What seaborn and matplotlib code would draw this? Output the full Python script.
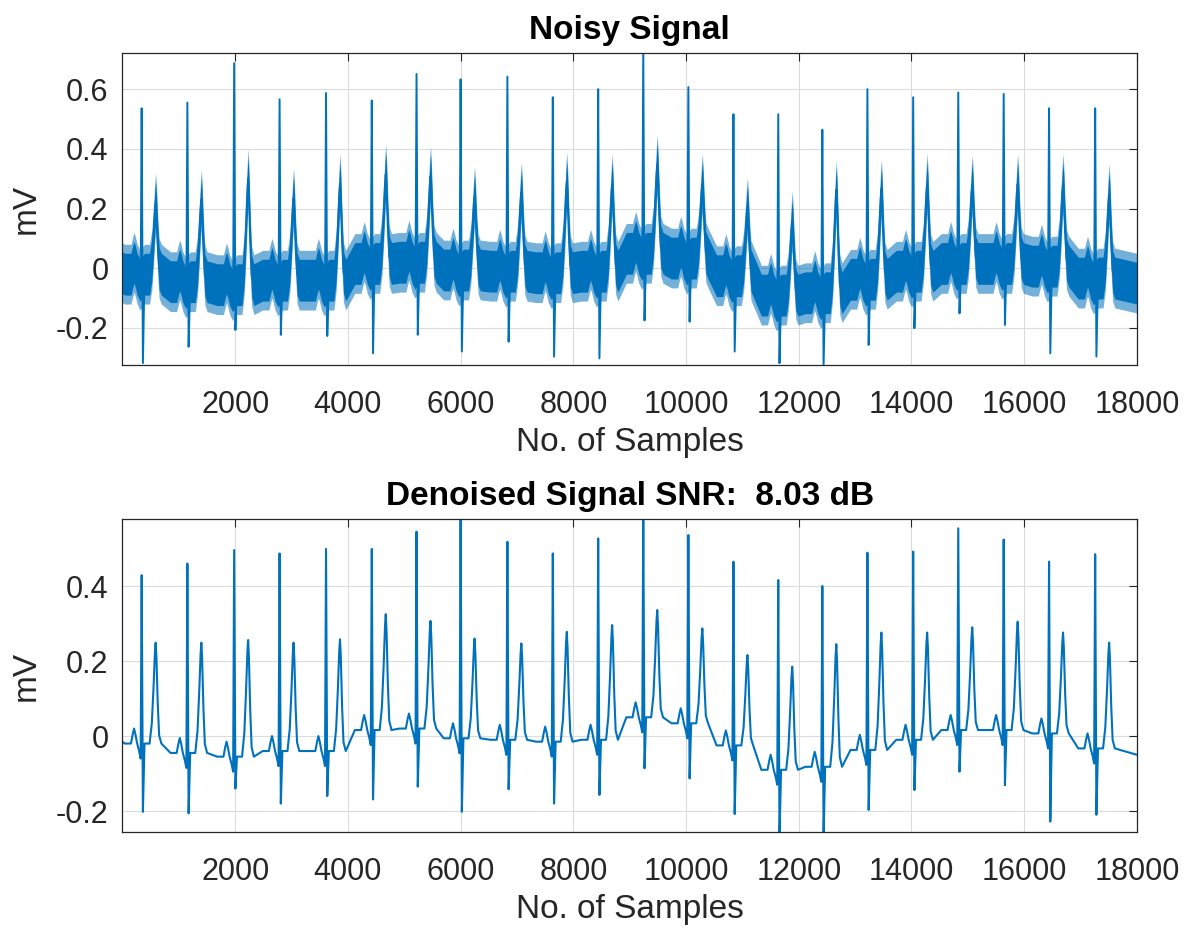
import matplotlib
matplotlib.use("Agg")
import matplotlib.pyplot as plt
import numpy as np
import pandas as pd
import seaborn as sns

# ---------------- data ----------------
beat_pos = [341, 1152, 1982, 2788, 3612, 4424, 5218, 6000, 6830, 7636, 8441,
            9241, 10041, 10841, 11636, 12418, 13218, 14030, 14830, 15636, 16441, 17259]

# denoised signal (mV)
clean_base = [-0.020, -0.045, -0.055, -0.040, -0.040, 0.016, 0.020, -0.006, -0.010, -0.015, -0.010,
              0.050, 0.034, -0.025, -0.090, -0.082, -0.037, -0.010, 0.016, 0.016, 0.007, -0.033]
clean_r = [0.429, 0.460, 0.496, 0.487, 0.499, 0.499, 0.545, 0.600, 0.518, 0.487, 0.527,
           0.600, 0.536, 0.465, 0.416, 0.400, 0.489, 0.492, 0.554, 0.524, 0.465, 0.485]
clean_s = [-0.202, -0.206, -0.140, -0.180, -0.160, -0.169, -0.135, -0.202, -0.142, -0.180, -0.157,
           -0.086, -0.113, -0.208, -0.270, -0.270, -0.197, -0.144, -0.095, -0.131, -0.228, -0.210]
clean_t = [0.249, 0.249, 0.256, 0.249, 0.258, 0.325, 0.307, 0.260, 0.247, 0.278, 0.296,
           0.336, 0.287, 0.216, 0.185, 0.245, 0.276, 0.276, 0.290, 0.305, 0.276, 0.249]

# noisy signal (mV)
noisy_r = [0.536, 0.555, 0.687, 0.566, 0.587, 0.562, 0.651, 0.633, 0.642, 0.573, 0.600,
           0.740, 0.607, 0.516, 0.516, 0.464, 0.600, 0.573, 0.589, 0.584, 0.536, 0.536]
noisy_s = [-0.318, -0.263, -0.207, -0.223, -0.227, -0.285, -0.223, -0.279, -0.246, -0.296, -0.302,
           -0.175, -0.179, -0.279, -0.318, -0.330, -0.257, -0.201, -0.151, -0.190, -0.285, -0.296]
noisy_t = [0.318, 0.330, 0.400, 0.335, 0.383, 0.416, 0.408, 0.340, 0.355, 0.388, 0.383,
           0.447, 0.383, 0.304, 0.257, 0.363, 0.365, 0.385, 0.379, 0.382, 0.383, 0.349]
noise_half_band = 0.10    # half width of the noise band (mV)
noise_core_band = 0.07    # half width of its dense core (mV)

signal_start = [0, -0.015]
signal_end = [18000, -0.050]

x_ticks = [2000, 4000, 6000, 8000, 10000, 12000, 14000, 16000, 18000]
y_ticks_top = [-0.2, 0, 0.2, 0.4, 0.6]
y_ticks_bot = [-0.2, 0, 0.2, 0.4]

titles = ["Noisy Signal", "Denoised Signal SNR:  8.03 dB"]
x_label = "No. of Samples"
y_label = "mV"

# ---------------- beat template (shape only) ----------------
P_AMP = 0.04


def beat_points(pos, b, r, s, t, qrs=True):
    h = t - b
    pts = [(-300, b), (-190, b), (-160, b + 0.6 * P_AMP), (-135, b + P_AMP),
           (-110, b + 0.6 * P_AMP), (-80, b)]
    if qrs:
        pts += [(-45, b - 0.02), (-18, b - 0.04), (0, r), (22, s), (50, b)]
    else:
        pts += [(-30, b - 0.02), (50, b)]
    pts += [(140, b), (180, b + 0.2 * h), (210, b + 0.55 * h), (235, b + 0.9 * h), (248, t),
            (262, b + 0.85 * h), (285, b + 0.4 * h), (310, b + 0.08 * h), (350, b)]
    return [(pos + o, v) for o, v in pts]


def build(base, r, s, t, qrs=True):
    pts = [tuple(signal_start)]
    for i, p in enumerate(beat_pos):
        pts += beat_points(p, base[i], r[i], s[i], t[i], qrs)
    pts.append(tuple(signal_end))
    return pd.DataFrame(pts, columns=["sample", "mV"])


clean_df = build(clean_base, clean_r, clean_s, clean_t)
noisy_line_t = [v - noise_half_band for v in noisy_t]
noisy_df = build(clean_base, noisy_r, noisy_s, noisy_line_t)
band_df = build(clean_base, noisy_r, noisy_s, noisy_line_t, qrs=False)

# ---------------- style ----------------
sns.set_theme(style="white")
plt.rcParams["font.family"] = ["Liberation Sans", "DejaVu Sans"]
plt.rcParams["axes.unicode_minus"] = False

BLUE = "#0072BD"
DARK = "#262626"

fig = plt.figure(figsize=(11.9, 9.31), dpi=100)
ax1 = fig.add_axes([0.1029, 0.608, 0.8525, 0.3347])
ax2 = fig.add_axes([0.1029, 0.1067, 0.8525, 0.3355])

# noisy
ax1.fill_between(band_df["sample"], band_df["mV"] - noise_half_band, band_df["mV"] + noise_half_band,
                 color=BLUE, alpha=0.55, lw=0)
ax1.fill_between(band_df["sample"], band_df["mV"] - noise_core_band, band_df["mV"] + noise_core_band,
                 color=BLUE, alpha=1.0, lw=0)
sns.lineplot(data=noisy_df, x="sample", y="mV", ax=ax1, sort=False, estimator=None,
             color=BLUE, linewidth=1.4)
# denoised
sns.lineplot(data=clean_df, x="sample", y="mV", ax=ax2, sort=False, estimator=None,
             color=BLUE, linewidth=1.5)


def fmt(v):
    return f"{v:g}"


for ax, yt, ylim, title in [(ax1, y_ticks_top, (-0.324, 0.72), titles[0]),
                            (ax2, y_ticks_bot, (-0.255, 0.578), titles[1])]:
    ax.set_xlim(0, 18000)
    ax.set_ylim(*ylim)
    ax.set_xticks(x_ticks)
    ax.set_xticklabels([str(v) for v in x_ticks])
    ax.set_yticks(yt)
    ax.set_yticklabels([fmt(v) for v in yt])
    ax.set_axisbelow(True)
    ax.grid(True, color="#dcdcdc", linewidth=0.8)
    ax.tick_params(direction="in", top=True, right=True, length=6, width=0.8,
                   labelsize=22, labelcolor=DARK, color=DARK)
    ax.tick_params(axis="x", pad=18)
    ax.tick_params(axis="y", pad=10)
    for sp in ax.spines.values():
        sp.set_color(DARK)
        sp.set_linewidth(0.9)
    ax.set_xlabel(x_label, fontsize=24, color=DARK, labelpad=5)
    ax.set_ylabel(y_label, fontsize=24, color=DARK, labelpad=10)
    ax.set_title(title, fontsize=24, fontweight="bold", color="black", pad=10)

fig.savefig("out.png", dpi=100)
